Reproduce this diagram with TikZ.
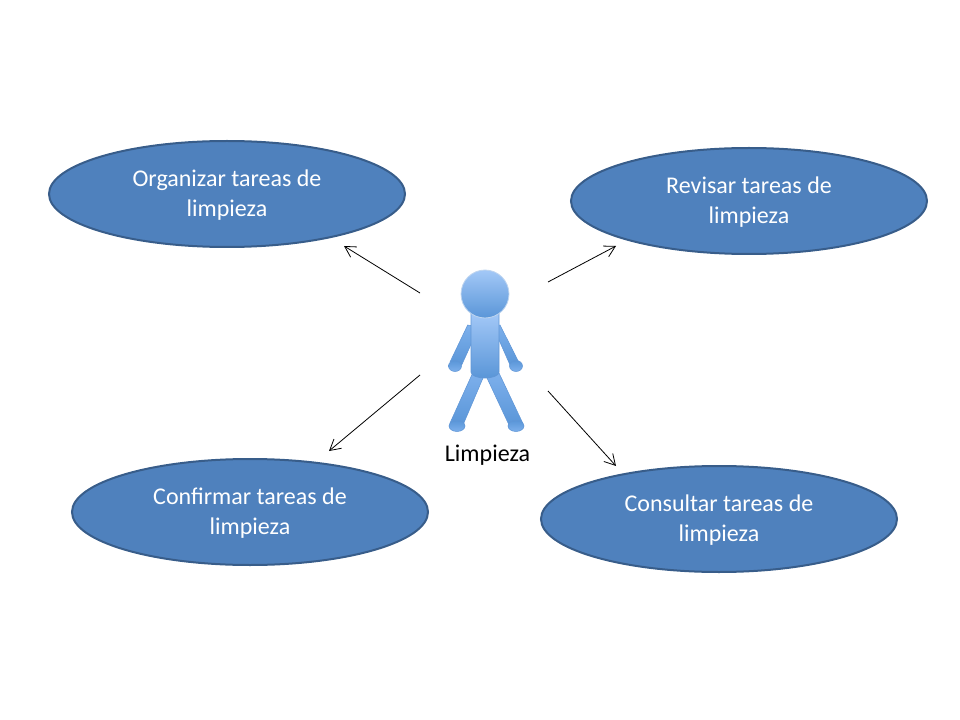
\documentclass[tikz,border=0pt]{standalone}
\usepackage{fontspec}
\setmainfont{Carlito}
\usetikzlibrary{shapes.geometric,arrows.meta}
\definecolor{tareafill}{HTML}{4F81BD}
\definecolor{tarealine}{HTML}{385D8A}
\definecolor{figlight}{HTML}{A3C8F7}
\definecolor{figmid}{HTML}{7DB0EC}
\definecolor{figdark}{HTML}{5A96D8}
\definecolor{figline}{HTML}{6096D6}

\begin{document}
\begin{tikzpicture}[x=0.75pt,y=-0.75pt,
    tarea node/.style={ellipse,draw=tarealine,line width=1.5pt,fill=tareafill,text=white,minimum width=267pt,minimum height=79.5pt,inner sep=0pt,text depth=1.2pt,align=center,font=\fontsize{18}{22}\selectfont},
    flecha/.style={-{Straight Barb[length=8pt,width=9pt]},black,line width=0.6pt},
    limb/.style={top color=figmid,bottom color=figdark,draw=figline,line width=0.4pt},
    part/.style={top color=figlight,bottom color=figdark,draw=figline,line width=0.6pt},
    extremo/.style={top color=figdark,bottom color=figmid,draw=figline,line width=0.4pt}]
    \useasboundingbox (0,0) rectangle (960,720);
    \node[tarea node] (organizar) at (227,194) {Organizar tareas de\\limpieza};
    \node[tarea node] (revisar) at (749,201) {Revisar tareas de\\limpieza};
    \node[tarea node] (confirmar) at (250,512) {Confirmar tareas de\\limpieza};
    \node[tarea node] (consultar) at (719,519) {Consultar tareas de\\limpieza};

    % figure
    \path[limb] (467.7,325) -- (473,326) -- (473,340) -- (461.7,365) -- (450,362) -- cycle;
    \path[limb] (500,325) -- (497,326) -- (499,340) -- (510,365) -- (518.7,362) -- cycle;
    \path[extremo] (455,366) ellipse (6.5 and 5.5);
    \path[extremo] (516,366) ellipse (6.5 and 5.5);
    \path[limb] (472.7,373) -- (483,378) -- (463,425) -- (450,423) -- cycle;
    \path[limb] (499,373) -- (487,378) -- (509,425) -- (522.7,423) -- cycle;
    \path[extremo] (457,426) ellipse (8 and 5.5);
    \path[extremo] (516,426) ellipse (8 and 5.5);
    \path[part] (471,313) -- (499,313) -- (499,372) .. controls (499,376) and (491,378) .. (485,378) .. controls (479,378) and (471,376) .. (471,372) -- cycle;
    \path[part,draw=white!60!figline] (485,294) circle (24);
    \node[inner sep=0pt,font=\fontsize{18}{22}\selectfont] (limpieza) at (487.5,455) {Limpieza};

    \coordinate (a1) at (420,293);
    \coordinate (a2) at (548,282);
    \coordinate (a3) at (420,375);
    \coordinate (a4) at (548,391);
    \coordinate (b1) at (344,246);
    \coordinate (b2) at (616,246);
    \coordinate (b3) at (329,451);
    \coordinate (b4) at (616,466);
    \draw[flecha] (a1) -- (b1);
    \draw[flecha] (a2) -- (b2);
    \draw[flecha] (a3) -- (b3);
    \draw[flecha] (a4) -- (b4);
\end{tikzpicture}
\end{document}
